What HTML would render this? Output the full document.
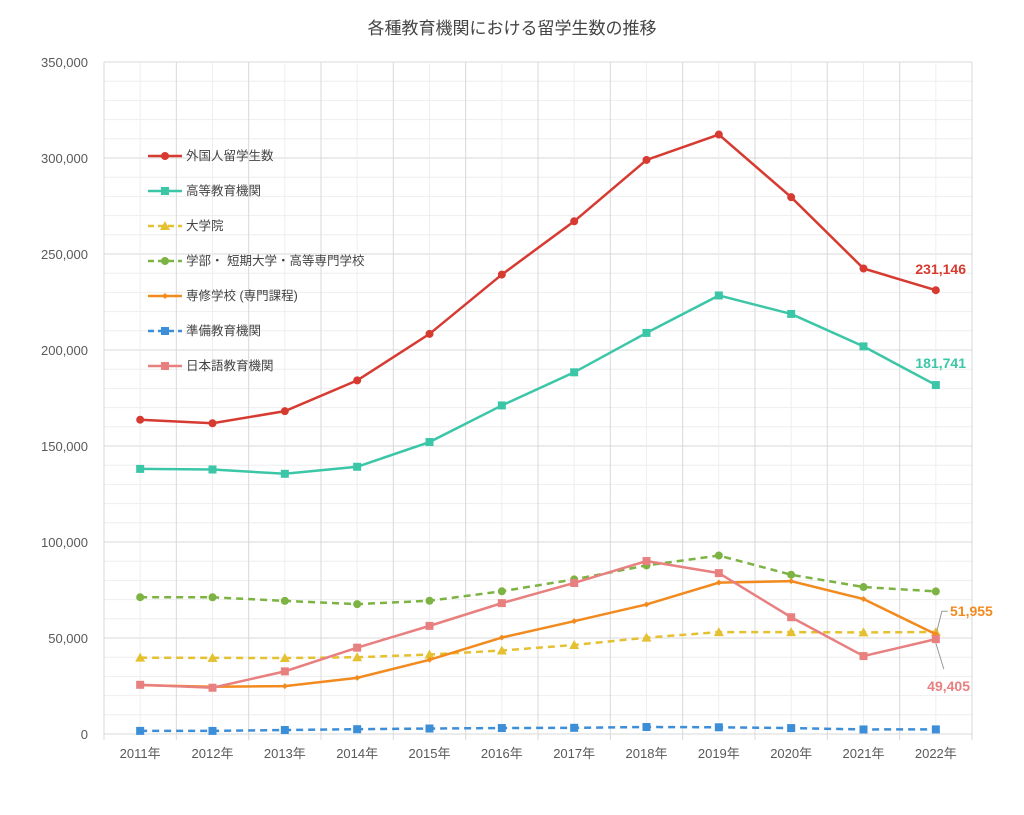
<!DOCTYPE html>
<html><head><meta charset="utf-8"><style>
body{margin:0;background:#fff;font-family:"Liberation Sans","Noto Sans CJK JP",sans-serif;}
svg text{font-family:"Liberation Sans","Noto Sans CJK JP",sans-serif;}
</style></head><body>
<svg id="chart" width="1024" height="810" xmlns="http://www.w3.org/2000/svg">
<text x="512" y="34" text-anchor="middle" font-size="17" fill="#444">各種教育機関における留学生数の推移</text>
<g id="grid"></g><g id="axes"></g><g id="series"></g><g id="legend"></g><g id="labels"></g>
</svg>
<script>
const categories=["2011年","2012年","2013年","2014年","2015年","2016年","2017年","2018年","2019年","2020年","2021年","2022年"];
const yTicks=[0,50000,100000,150000,200000,250000,300000,350000];
const seriesNames=["外国人留学生数","高等教育機関","大学院","学部・ 短期大学・高等専門学校","専修学校 (専門課程)","準備教育機関","日本語教育機関"];
const totalVals=[163697,161848,168145,184155,208379,239287,267042,298980,312214,279597,242444,231146];
const higherVals=[138075,137756,135519,139185,152062,171122,188384,208901,228403,218783,201877,181741];
const gradVals=[39749,39641,39567,39979,41396,43478,46373,50184,53089,53056,52905,53122];
const undergradVals=[71244,71216,69339,67637,69405,74340,80523,87806,92952,82953,76546,74269];
const senshuVals=[25463,24586,24930,29227,38654,50235,58771,67475,78844,79598,70291,51955];
const prepVals=[1622,1607,2070,2501,2853,3100,3225,3640,3506,3077,2370,2404];
const japaneseVals=[25622,24092,32626,44970,56317,68165,78658,90079,83811,60814,40591,49405];

const NS="http://www.w3.org/2000/svg";
const L=104,R=972,T=62,B=734,YMAX=350000;
const bw=(R-L)/categories.length;
const x=i=>L+bw*(i+0.5);
const y=v=>B-(v/YMAX)*(B-T);
function mk(tag,attrs,parent){const e=document.createElementNS(NS,tag);for(const k in attrs)e.setAttribute(k,attrs[k]);parent.appendChild(e);return e;}
const grid=document.getElementById('grid'),axes=document.getElementById('axes'),ser=document.getElementById('series'),leg=document.getElementById('legend'),lab=document.getElementById('labels');
for(let v=0;v<=YMAX;v+=10000){const l=mk('line',{x1:L,x2:R,y1:y(v),y2:y(v),stroke:v%50000===0?'#d9d9d9':'#eeeeee','stroke-width':1},grid);
}
for(let i=0;i<=categories.length;i++){const l=mk('line',{x1:L+bw*i,x2:L+bw*i,y1:T,y2:B+6,stroke:'#d9d9d9'},grid);

if(i<categories.length){const m=mk('line',{x1:x(i),x2:x(i),y1:T,y2:B,stroke:'#eeeeee'},grid);}}
yTicks.forEach(v=>{const t=mk('text',{x:L-16,y:y(v)+5,'text-anchor':'end','font-size':13,fill:'#595959'},axes);t.textContent=v.toLocaleString('en-US');
});
categories.forEach((c,i)=>{const t=mk('text',{x:x(i),y:B+24,'text-anchor':'middle','font-size':13,fill:'#595959'},axes);t.textContent=c;
});
const styles=[
 {vals:totalVals,color:'#d63a31',dash:'',m:'circle'},
 {vals:higherVals,color:'#3cc6a8',dash:'',m:'square'},
 {vals:gradVals,color:'#e5c131',dash:'7,5',m:'triangle'},
 {vals:undergradVals,color:'#7cb342',dash:'7,5',m:'circle'},
 {vals:senshuVals,color:'#f28a1e',dash:'',m:'diamond'},
 {vals:prepVals,color:'#3c8ed8',dash:'7,5',m:'square'},
 {vals:japaneseVals,color:'#e88080',dash:'',m:'square'}];
function marker(type,cx,cy,color,g){let e;
 if(type==='circle')e=mk('circle',{cx,cy,r:4,fill:color},g);
 else if(type==='square')e=mk('rect',{x:cx-4,y:cy-4,width:8,height:8,fill:color},g);
 else if(type==='triangle')e=mk('polygon',{points:`${cx},${cy-5} ${cx+5},${cy+4} ${cx-5},${cy+4}`,fill:color},g);
 else e=mk('polygon',{points:`${cx},${cy-3} ${cx+3},${cy} ${cx},${cy+3} ${cx-3},${cy}`,fill:color},g);
 return e;}
const keys=['total','higher-ed','graduate','undergrad','senshu','prep','japanese'];
styles.forEach((s,k)=>{const g=mk('g',{},ser);
 const pl=mk('polyline',{points:s.vals.map((v,i)=>x(i)+','+y(v)).join(' '),fill:'none',stroke:s.color,'stroke-width':2.5,'stroke-dasharray':s.dash},g);
 
 s.vals.forEach((v,i)=>{const m=marker(s.m,x(i),y(v),s.color,g);});
 const ly=156+k*35;const lg=mk('g',{},leg);
 mk('line',{x1:148,x2:182,y1:ly,y2:ly,stroke:s.color,'stroke-width':2.5,'stroke-dasharray':s.dash?'6,4':''},lg);
 marker(s.m,165,ly,s.color,lg);
 const t=mk('text',{x:186,y:ly+4,'font-size':12.5,fill:'#444'},lg);t.textContent=seriesNames[k];});
const n=categories.length-1;
function label(txt,lx,ly,color,anchor){const t=mk('text',{x:lx,y:ly,'text-anchor':anchor,'font-size':14,'font-weight':'bold',fill:color},lab);t.textContent=txt;
 }
label(totalVals[n].toLocaleString('en-US'),966,274,'#d63a31','end');
label(higherVals[n].toLocaleString('en-US'),966,368,'#3cc6a8','end');
label(senshuVals[n].toLocaleString('en-US'),950,616,'#f28a1e','start');
label(japaneseVals[n].toLocaleString('en-US'),970,691,'#e88080','end');
const l1=mk('polyline',{points:`${x(n)+1},${y(senshuVals[n])-3} ${x(n)+6},${y(senshuVals[n])-23} ${x(n)+12},${y(senshuVals[n])-23}`,fill:'none',stroke:'#999'},lab);

const l2=mk('line',{x1:x(n),y1:y(japaneseVals[n])+4,x2:x(n)+8,y2:y(japaneseVals[n])+30,stroke:'#999'},lab);

</script>
</body></html>
